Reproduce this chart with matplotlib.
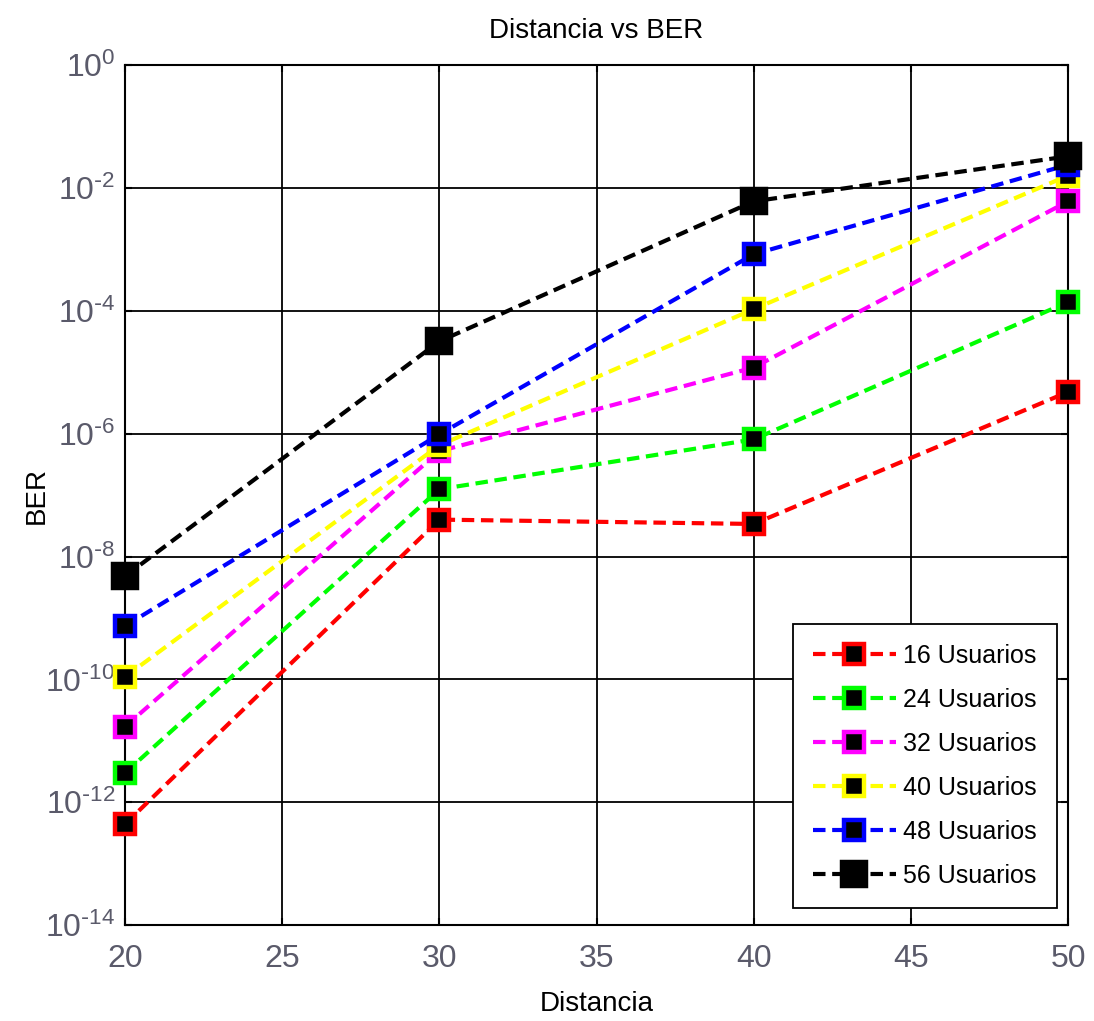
import numpy as np
import matplotlib
matplotlib.use('Agg')
import matplotlib.pyplot as plt

# distancia y BER
distancia = [20, 30, 40, 50]
ber_16 = [4.4e-13, 4.0e-8, 3.4e-8, 4.8e-6]
ber_24 = [3.0e-12, 1.25e-7, 8.1e-7, 1.4e-4]
ber_32 = [1.7e-11, 5.2e-7, 1.2e-5, 6.1e-3]
ber_40 = [1.1e-10, 6.5e-7, 1.07e-4, 1.6e-2]
ber_48 = [7.4e-10, 9.8e-7, 8.4e-4, 2.4e-2]
ber_56 = [4.8e-9, 3.2e-5, 6.1e-3, 3.3e-2]
etiquetas = ['16 Usuarios', '24 Usuarios', '32 Usuarios',
             '40 Usuarios', '48 Usuarios', '56 Usuarios']
colores = ['#ff0000', '#00ff00', '#ff00ff', '#ffff00', '#0000ff', '#000000']

plt.rcParams['font.family'] = ['Liberation Sans', 'DejaVu Sans']
plt.rcParams['mathtext.fontset'] = 'custom'
plt.rcParams['mathtext.rm'] = 'Liberation Sans Narrow'
plt.rcParams['mathtext.it'] = 'Liberation Sans Narrow'
plt.rcParams['mathtext.bf'] = 'Liberation Sans Narrow'

fig = plt.figure(figsize=(10.94, 10.21), dpi=100)
ax = fig.add_axes([0.1143, 0.094, 0.862, 0.842])

series = [ber_16, ber_24, ber_32, ber_40, ber_48, ber_56]
for i, ber in enumerate(series):
    ms = 17 if i == 5 else 15
    ax.plot(distancia, ber, linestyle='--', color=colores[i], linewidth=3,
            dashes=(3, 1.6), marker='s', markersize=ms,
            markerfacecolor='k', markeredgecolor=colores[i],
            markeredgewidth=3.2, label=etiquetas[i], clip_on=False, zorder=3)

ax.set_yscale('log')
ax.set_xlim(20, 50)
ax.set_ylim(1e-14, 1e0)
ax.set_xticks([20, 25, 30, 35, 40, 45, 50])
ax.set_yticks([10.0**k for k in range(-14, 1, 2)])
ax.set_yticklabels(['$\\mathregular{10^{%s}}$' % (str(k) if k == 0 else '\\text{-}%d' % -k)
                    for k in range(-14, 1, 2)])
ax.minorticks_off()
ax.grid(True, color='k', linewidth=1.3, linestyle='-')
ax.set_axisbelow(True)
for s in ax.spines.values():
    s.set_linewidth(1.5)
ax.tick_params(axis='both', which='major', labelsize=23, labelcolor='#5a5a6a',
               direction='in', length=5, width=1.5, top=True, right=True)
ax.tick_params(axis='x', pad=14)
ax.tick_params(axis='y', pad=7)
for t in ax.get_xticklabels() + ax.get_yticklabels():
    t.set_family(['Liberation Sans Narrow', 'Liberation Sans', 'DejaVu Sans'])

ax.set_title('Distancia vs BER', fontsize=20, pad=20)
ax.set_xlabel('Distancia', fontsize=20, labelpad=12)
ax.set_ylabel('BER', fontsize=20)
ax.yaxis.set_label_coords(-0.08, 0.5)

leg = ax.legend(loc='lower right', bbox_to_anchor=(0.988, 0.02), borderaxespad=0,
                fontsize=18, fancybox=False, edgecolor='k', framealpha=1,
                handlelength=3.3, handletextpad=0.3, labelspacing=0.8,
                borderpad=0.8)
leg.get_frame().set_linewidth(1.3)

fig.savefig('out.png', dpi=100)
